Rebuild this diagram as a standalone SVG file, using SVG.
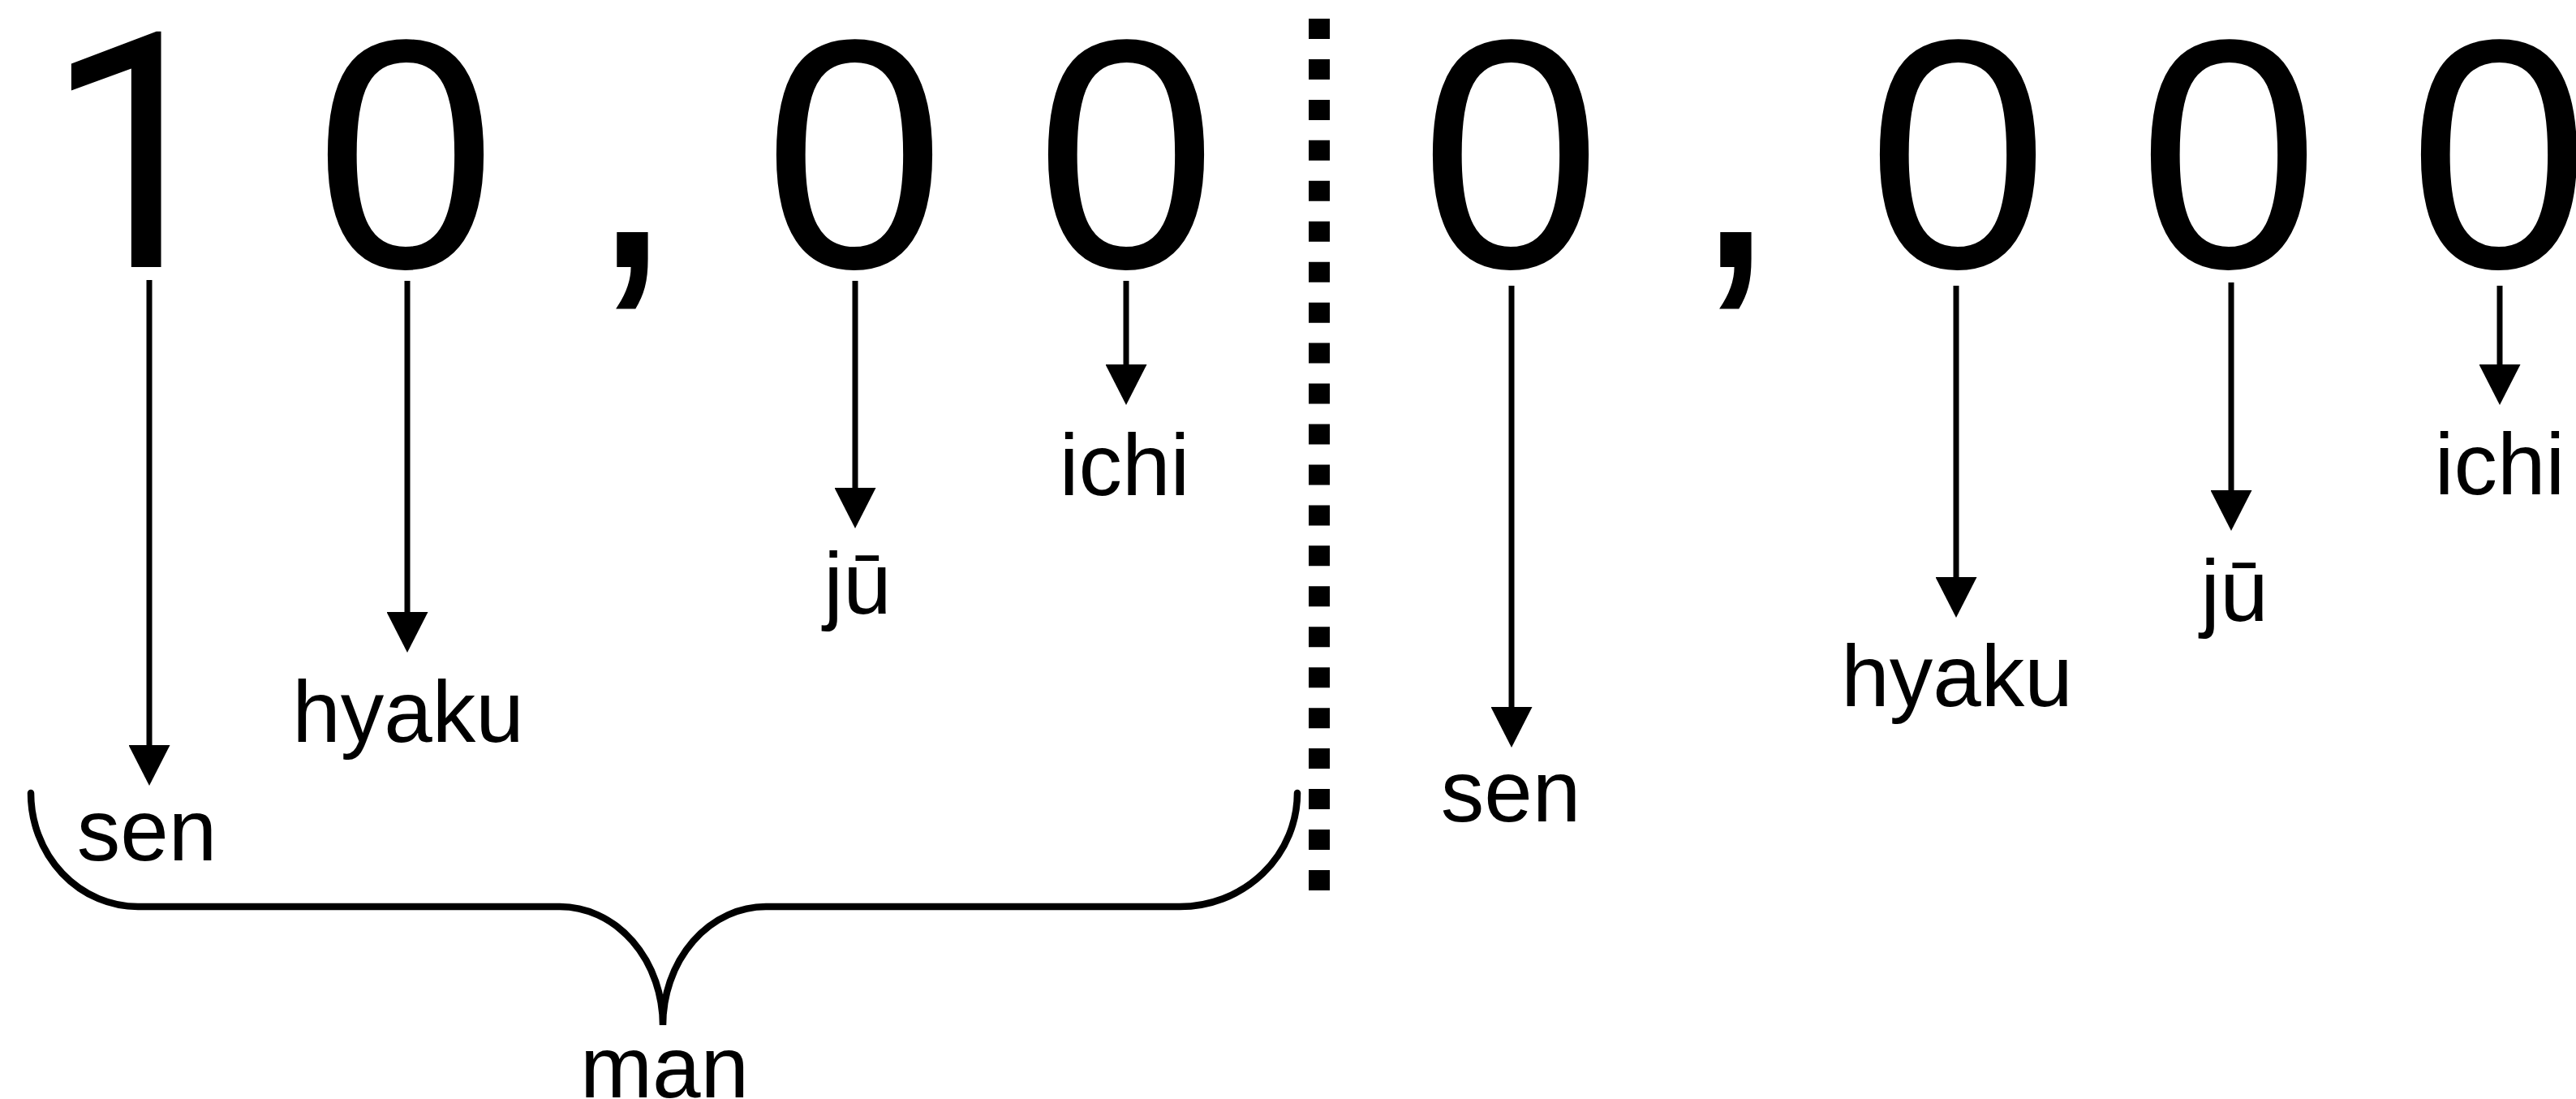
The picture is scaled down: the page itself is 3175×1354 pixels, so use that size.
<svg xmlns="http://www.w3.org/2000/svg" width="3175" height="1354" viewBox="0 0 3175 1354">
  <style>
    .digit { font-family: "Liberation Sans", Arial, Helvetica, sans-serif; font-size: 402px; fill: #000; }
    .one { font-family: Roboto, "Liberation Sans", sans-serif; font-size: 406px; fill: #000; }
    .label { font-family: "Liberation Sans", Arial, Helvetica, sans-serif; font-size: 107px; fill: #000; text-anchor: middle; }
    .arrow { stroke: #000; stroke-width: 7; fill: none; marker-end: url(#head); }
    .brace { stroke: #000; stroke-width: 8.5; fill: none; stroke-linecap: round; }
    .divider { stroke: #000; stroke-width: 26; stroke-dasharray: 25 24.95; fill: none; }
  </style>
  <defs>
    <marker id="head" markerUnits="userSpaceOnUse" viewBox="0 0 51 50" markerWidth="51" markerHeight="50" refX="25.5" refY="2">
      <path d="M0,0 L51,0 L25.5,50 Z" fill="#000"/>
    </marker>
  </defs>
  <rect width="3175" height="1354" fill="#fff"/>

  <!-- number digits -->
  <g id="digit-1"><text class="one" x="54" y="329">1</text></g>
  <g id="digit-0a"><text class="digit" x="500" y="329" text-anchor="middle">0</text></g>
  <g id="comma-1"><text class="digit" x="723" y="329">,</text></g>
  <g id="digit-0b"><text class="digit" x="1053" y="329" text-anchor="middle">0</text></g>
  <g id="digit-0c"><text class="digit" x="1388" y="329" text-anchor="middle">0</text></g>
  <g id="digit-0d"><text class="digit" x="1862" y="329" text-anchor="middle">0</text></g>
  <g id="comma-2"><text class="digit" x="2083" y="329">,</text></g>
  <g id="digit-0e"><text class="digit" x="2413" y="329" text-anchor="middle">0</text></g>
  <g id="digit-0f"><text class="digit" x="2747" y="329" text-anchor="middle">0</text></g>
  <g id="digit-0g"><text class="digit" x="3080" y="329" text-anchor="middle">0</text></g>

  <!-- divider -->
  <g id="divider">
    <line class="divider" x1="1626" y1="23" x2="1626" y2="1098"/>
  </g>

  <!-- labels -->
  <g id="label-sen-1"><text class="label" x="181" y="1060">sen</text></g>
  <g id="label-hyaku-1"><text class="label" x="503" y="914">hyaku</text></g>
  <g id="label-ju-1"><text class="label" x="1057" y="756">jū</text></g>
  <g id="label-ichi-1"><text class="label" x="1386" y="610">ichi</text></g>
  <g id="label-sen-2"><text class="label" x="1862" y="1012">sen</text></g>
  <g id="label-hyaku-2"><text class="label" x="2412" y="870">hyaku</text></g>
  <g id="label-ju-2"><text class="label" x="2754" y="765">jū</text></g>
  <g id="label-ichi-2"><text class="label" x="3081" y="609">ichi</text></g>
  <g id="label-man"><text class="label" x="819" y="1352">man</text></g>

  <!-- connectors -->
  <g id="connectors">
    <line class="arrow" x1="184" y1="345" x2="184" y2="920"/>
    <line class="arrow" x1="502" y1="346" x2="502" y2="756"/>
    <line class="arrow" x1="1054" y1="346" x2="1054" y2="603"/>
    <line class="arrow" x1="1388" y1="346" x2="1388" y2="451"/>
    <line class="arrow" x1="1863" y1="352" x2="1863" y2="873"/>
    <line class="arrow" x1="2411" y1="352" x2="2411" y2="713"/>
    <line class="arrow" x1="2750" y1="348" x2="2750" y2="606"/>
    <line class="arrow" x1="3081" y1="352" x2="3081" y2="451"/>
  </g>

  <!-- brace -->
  <g id="brace-man">
    <path class="brace" d="M38,977 A132,140 0 0 0 170,1117 L690,1117 A127,146 0 0 1 817,1263 A127,146 0 0 1 944,1117 L1454,1117 A145,140 0 0 0 1599,977"/>
  </g>
</svg>
